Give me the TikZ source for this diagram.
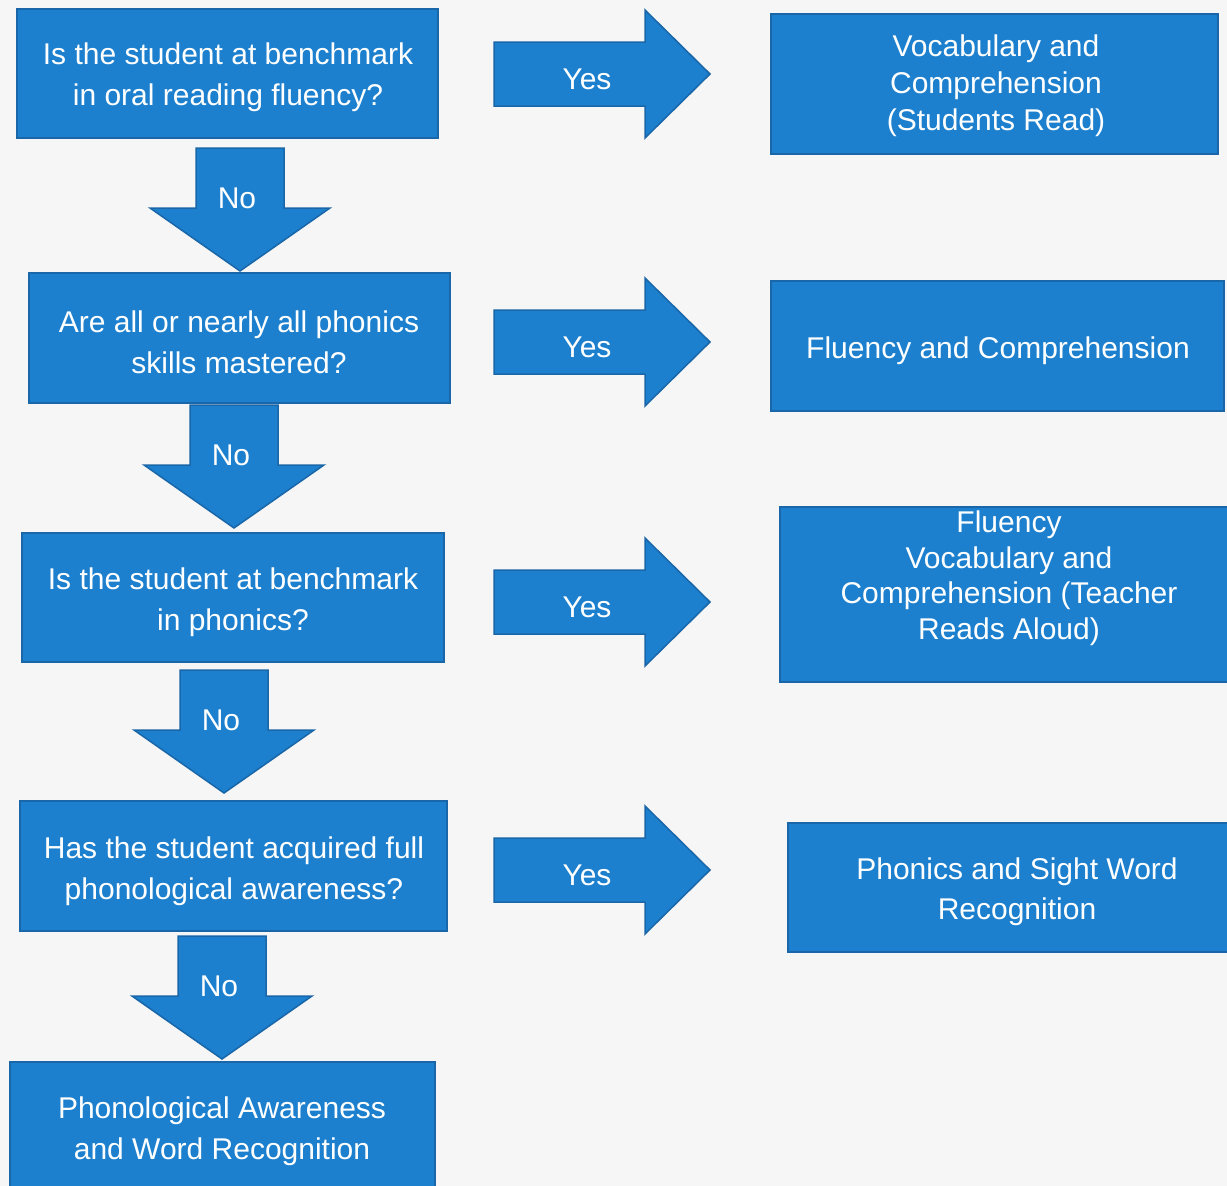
\documentclass[tikz,border=0pt]{standalone}
\usepackage{fontspec}
\setmainfont{Liberation Sans}
\definecolor{boxfill}{HTML}{1C80CE}
\definecolor{boxedge}{HTML}{1966A8}
\definecolor{paper}{HTML}{F6F6F6}
\tikzset{
  box/.style={draw=boxedge, line width=2pt, fill=boxfill, inner sep=0pt},
  boxtext/.style={text=white, align=center, inner sep=0pt,
    font=\fontsize{30}{41}\selectfont},
  rboxtext/.style={boxtext, font=\fontsize{30}{37}\selectfont},
  blockarrow/.style={draw=boxedge, line width=1.5pt, fill=boxfill, line join=miter},
  arrowlabel/.style={text=white, inner sep=0pt, font=\fontsize{30}{36}\selectfont}
}
% down arrow: #1 centre x, #2 top y, #3 name, #4 label
\newcommand{\downblock}[4]{%
  \draw[blockarrow] (#1-44,#2) -- (#1+44,#2) -- (#1+44,#2+60) -- (#1+90,#2+60)
    -- (#1,#2+123) -- (#1-90,#2+60) -- (#1-44,#2+60) -- cycle;
  \node[arrowlabel] (#3) at (#1-3,#2+50) {#4};}
% right arrow: #1 centre y, #2 name, #3 label
\newcommand{\rightblock}[3]{%
  \draw[blockarrow] (494,#1-32) -- (645,#1-32) -- (645,#1-64) -- (710,#1)
    -- (645,#1+64) -- (645,#1+32) -- (494,#1+32) -- cycle;
  \node[arrowlabel] (#2) at (587,#1+5) {#3};}
\begin{document}
\begin{tikzpicture}[x=1pt,y=-1pt]
\useasboundingbox (0,0) rectangle (1227,1186);
\clip (0,0) rectangle (1227,1186);
\fill[paper] (0,0) rectangle (1227,1186);

% decision boxes on the left
\node[box, minimum width=421pt, minimum height=129pt] (q1) at (227.5,73.5) {};
\node[boxtext] (q1t) at (228,77)
  {Is the student at benchmark\\in oral reading fluency?};
\node[box, minimum width=421pt, minimum height=130pt] (q2) at (239.5,338) {};
\node[boxtext] (q2t) at (239,342)
  {Are all or nearly all phonics\\skills mastered?};
\node[box, minimum width=422pt, minimum height=129pt] (q3) at (233,597.5) {};
\node[boxtext] (q3t) at (233,602)
  {Is the student at benchmark\\in phonics?};
\node[box, minimum width=427pt, minimum height=130pt] (q4) at (233.5,866) {};
\node[boxtext] (q4t) at (234,871)
  {Has the student acquired full\\phonological awareness?};
\node[box, minimum width=425pt, minimum height=140pt] (q5) at (222.5,1132) {};
\node[boxtext] (q5t) at (222,1131)
  {Phonological Awareness\\and Word Recognition};

% outcome boxes on the right
\node[box, minimum width=447pt, minimum height=140pt] (r1) at (994.5,84) {};
\node[rboxtext] (r1t) at (996,86)
  {Vocabulary and\\Comprehension\\(Students Read)};
\node[box, minimum width=453pt, minimum height=130pt] (r2) at (997.5,346) {};
\node[rboxtext] (r2t) at (998,351) {Fluency and Comprehension};
\node[box, minimum width=460pt, minimum height=175pt] (r3) at (1010,594.5) {};
\node[rboxtext, font=\fontsize{30}{35.5}\selectfont] (r3t) at (1009,578)
  {Fluency\\Vocabulary and\\Comprehension (Teacher\\Reads Aloud)};
\node[box, minimum width=458pt, minimum height=129pt] (r4) at (1017,887.5) {};
\node[rboxtext, font=\fontsize{30}{40}\selectfont] (r4t) at (1017,892)
  {Phonics and Sight Word\\Recognition};

% "No" arrows between the questions
\downblock{240}{148}{no1}{No}
\downblock{234}{405}{no2}{No}
\downblock{224}{670}{no3}{No}
\downblock{222}{936}{no4}{No}

% "Yes" arrows towards the outcomes
\rightblock{74}{yes1}{Yes}
\rightblock{342}{yes2}{Yes}
\rightblock{602}{yes3}{Yes}
\rightblock{870}{yes4}{Yes}
\end{tikzpicture}
\end{document}
